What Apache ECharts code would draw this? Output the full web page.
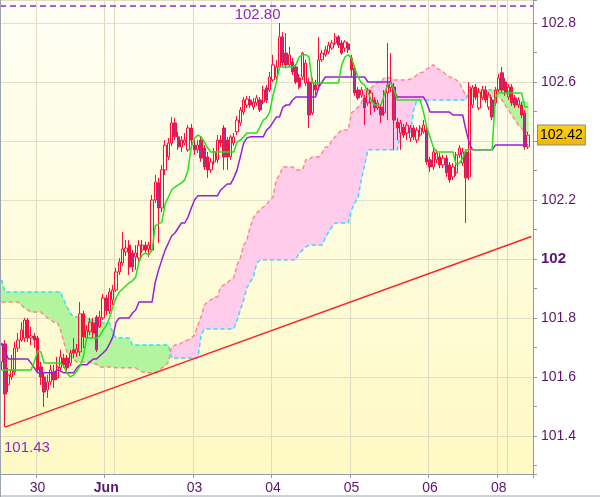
<!DOCTYPE html>
<html><head><meta charset="utf-8">
<script src="https://cdn.jsdelivr.net/npm/echarts@6/dist/echarts.min.js"></script>
<style>html,body{margin:0;padding:0;background:#fff}#c{width:600px;height:497px}</style>
</head><body><div id="c"></div><script>
const opens = [101.651,101.712,101.573,101.600,101.617,101.698,101.725,101.732,101.793,101.732,
101.739,101.732,101.634,101.600,101.556,101.583,101.617,101.597,101.631,101.664,
101.664,101.647,101.692,101.681,101.685,101.814,101.732,101.753,101.783,101.803,
101.770,101.800,101.868,101.824,101.861,101.895,101.956,101.986,102.024,102.047,
102.020,102.007,102.003,102.030,102.047,102.034,102.030,102.200,102.258,102.173,
102.302,102.346,102.393,102.461,102.414,102.380,102.393,102.370,102.444,102.386,
102.370,102.403,102.376,102.346,102.302,102.329,102.336,102.403,102.444,102.403,
102.346,102.393,102.431,102.461,102.498,102.522,102.539,102.515,102.529,102.539,
102.532,102.580,102.573,102.607,102.617,102.651,102.753,102.698,102.658,102.668,
102.651,102.614,102.617,102.597,102.600,102.495,102.590,102.590,102.675,102.692,
102.702,102.715,102.732,102.753,102.732,102.715,102.729,102.681,102.647,102.573,
102.556,102.546,102.529,102.532,102.539,102.512,102.515,102.495,102.563,102.580,
102.583,102.464,102.427,102.447,102.427,102.410,102.444,102.403,102.420,102.431,
102.437,102.336,102.312,102.336,102.346,102.319,102.342,102.319,102.278,102.292,
102.353,102.325,102.363,102.278,102.522,102.583,102.512,102.546,102.573,102.515,
102.539,102.529,102.573,102.631,102.600,102.549,102.583,102.546,102.522,102.522,
102.495,102.380];
const closes = [101.708,101.542,101.607,101.624,101.698,101.725,101.759,101.793,101.732,101.739,
101.725,101.624,101.600,101.549,101.583,101.624,101.590,101.634,101.668,101.641,
101.631,101.681,101.681,101.695,101.814,101.736,101.759,101.786,101.749,101.692,
101.803,101.868,101.824,101.888,101.895,101.956,101.990,102.034,102.037,101.973,
101.973,102.020,102.047,102.047,102.030,102.047,102.200,102.261,102.173,102.302,
102.386,102.393,102.461,102.414,102.380,102.403,102.403,102.444,102.403,102.370,
102.386,102.342,102.312,102.302,102.329,102.363,102.403,102.393,102.346,102.346,
102.414,102.414,102.471,102.505,102.539,102.542,102.522,102.532,102.546,102.505,
102.573,102.539,102.617,102.658,102.651,102.753,102.664,102.658,102.692,102.634,
102.600,102.583,102.698,102.664,102.488,102.600,102.573,102.675,102.698,102.709,
102.725,102.732,102.753,102.725,102.698,102.736,102.709,102.641,102.563,102.546,
102.573,102.512,102.573,102.563,102.512,102.529,102.488,102.563,102.590,102.597,
102.471,102.444,102.461,102.420,102.454,102.444,102.414,102.437,102.444,102.454,
102.329,102.312,102.363,102.359,102.319,102.342,102.292,102.268,102.312,102.353,
102.376,102.363,102.275,102.583,102.580,102.549,102.566,102.573,102.539,102.556,
102.481,102.573,102.614,102.573,102.563,102.583,102.529,102.522,102.539,102.488,
102.380,102.420];
const lows = [101.624,101.430,101.549,101.590,101.607,101.685,101.719,101.719,101.719,101.708,
101.698,101.617,101.573,101.498,101.529,101.573,101.563,101.590,101.617,101.631,
101.617,101.637,101.664,101.668,101.671,101.698,101.719,101.742,101.732,101.685,
101.766,101.793,101.810,101.814,101.844,101.888,101.946,101.976,102.010,101.946,
101.956,101.963,101.990,102.020,102.017,102.007,102.024,102.190,102.054,102.159,
102.285,102.336,102.383,102.403,102.370,102.363,102.386,102.363,102.383,102.353,
102.359,102.329,102.302,102.275,102.292,102.319,102.325,102.380,102.302,102.302,
102.336,102.383,102.420,102.451,102.488,102.512,102.512,102.505,102.519,102.498,
102.525,102.529,102.566,102.600,102.607,102.641,102.654,102.647,102.651,102.624,
102.593,102.576,102.607,102.587,102.444,102.488,102.556,102.573,102.668,102.685,
102.695,102.709,102.725,102.715,102.692,102.702,102.698,102.617,102.553,102.539,
102.546,102.454,102.519,102.488,102.498,102.505,102.461,102.485,102.471,102.566,
102.370,102.403,102.370,102.410,102.403,102.397,102.403,102.393,102.414,102.424,
102.319,102.295,102.302,102.325,102.308,102.308,102.278,102.258,102.268,102.282,
102.342,102.315,102.122,102.268,102.512,102.539,102.505,102.539,102.529,102.505,
102.471,102.519,102.566,102.563,102.553,102.539,102.519,102.512,102.512,102.478,
102.370,102.373];
const highs = [101.715,101.725,101.631,101.675,101.719,101.749,101.786,101.800,101.800,101.770,
101.749,101.739,101.651,101.617,101.607,101.641,101.641,101.668,101.692,101.678,
101.675,101.692,101.732,101.712,101.854,101.824,101.776,101.800,101.800,101.810,
101.824,101.881,101.878,101.902,101.912,101.970,102.003,102.092,102.064,102.064,
102.030,102.047,102.064,102.064,102.058,102.058,102.217,102.285,102.275,102.319,
102.403,102.410,102.481,102.478,102.431,102.417,102.427,102.454,102.458,102.403,
102.403,102.417,102.386,102.363,102.342,102.376,102.420,102.420,102.454,102.414,
102.420,102.427,102.485,102.515,102.549,102.553,102.553,102.546,102.556,102.549,
102.587,102.590,102.634,102.692,102.675,102.800,102.769,102.766,102.719,102.681,
102.661,102.627,102.702,102.675,102.614,102.614,102.607,102.753,102.709,102.722,
102.736,102.742,102.766,102.759,102.742,102.742,102.736,102.692,102.658,102.583,
102.583,102.556,102.580,102.573,102.549,102.539,102.525,102.573,102.732,102.698,
102.597,102.478,102.471,102.458,102.464,102.454,102.454,102.447,102.454,102.471,
102.447,102.346,102.376,102.370,102.359,102.353,102.353,102.329,102.325,102.363,
102.386,102.376,102.370,102.600,102.590,102.593,102.580,102.587,102.587,102.566,
102.549,102.583,102.627,102.651,102.614,102.593,102.593,102.556,102.549,102.532,
102.505,102.431];
const tenkan = [101.624,101.624,101.624,101.624,101.624,101.624,101.624,101.624,101.624,101.624,
101.651,101.688,101.685,101.647,101.647,101.647,101.647,101.647,101.647,101.637,
101.614,101.600,101.607,101.620,101.637,101.668,101.732,101.732,101.732,101.732,
101.739,101.759,101.776,101.800,101.837,101.868,101.888,101.898,101.909,101.919,
101.926,101.939,101.990,102.014,102.020,102.014,102.030,102.112,102.119,102.125,
102.186,102.210,102.234,102.244,102.251,102.258,102.268,102.302,102.380,102.410,
102.420,102.414,102.397,102.376,102.363,102.363,102.363,102.363,102.363,102.363,
102.363,102.363,102.397,102.403,102.414,102.427,102.427,102.427,102.427,102.447,
102.471,102.478,102.498,102.556,102.597,102.651,102.651,102.651,102.651,102.651,
102.658,102.685,102.692,102.692,102.685,102.597,102.597,102.597,102.597,102.597,
102.597,102.597,102.597,102.597,102.658,102.685,102.692,102.681,102.647,102.617,
102.597,102.590,102.566,102.539,102.522,102.522,102.522,102.556,102.590,102.597,
102.573,102.539,102.539,102.539,102.539,102.539,102.539,102.539,102.539,102.498,
102.447,102.414,102.380,102.363,102.363,102.363,102.363,102.363,102.363,102.319,
102.325,102.342,102.370,102.370,102.370,102.370,102.370,102.370,102.370,102.370,
102.370,102.549,102.563,102.563,102.563,102.563,102.563,102.563,102.563,102.563,
102.515,102.515];
const kijun = [101.715,101.692,101.661,101.661,101.661,101.661,101.661,101.661,101.661,101.647,
101.631,101.614,101.614,101.614,101.614,101.614,101.614,101.624,101.620,101.614,
101.614,101.614,101.614,101.631,101.641,101.641,101.641,101.651,101.661,101.661,
101.671,101.681,101.692,101.712,101.736,101.786,101.800,101.800,101.800,101.800,
101.817,101.827,101.854,101.854,101.854,101.854,101.854,101.922,101.963,101.997,
102.030,102.054,102.078,102.088,102.105,102.122,102.122,102.142,102.173,102.200,
102.214,102.214,102.214,102.214,102.214,102.214,102.214,102.234,102.244,102.254,
102.254,102.275,102.302,102.346,102.393,102.410,102.414,102.414,102.414,102.414,
102.414,102.437,102.447,102.464,102.481,102.481,102.515,102.522,102.522,102.539,
102.549,102.549,102.549,102.549,102.549,102.549,102.549,102.583,102.600,102.617,
102.617,102.617,102.617,102.617,102.617,102.617,102.617,102.617,102.617,102.617,
102.617,102.617,102.600,102.600,102.600,102.600,102.600,102.600,102.600,102.600,
102.573,102.549,102.549,102.549,102.549,102.549,102.549,102.549,102.549,102.549,
102.529,102.498,102.498,102.498,102.498,102.498,102.498,102.498,102.488,102.488,
102.488,102.488,102.437,102.393,102.370,102.370,102.370,102.370,102.370,102.370,
102.370,102.386,102.386,102.386,102.386,102.386,102.386,102.386,102.386,102.386,
102.386,102.386];
const spanA = [101.929,101.888,101.888,101.888,101.888,101.888,101.888,101.888,101.888,101.888,
101.888,101.888,101.888,101.888,101.888,101.888,101.888,101.888,101.888,101.861,
101.837,101.817,101.803,101.803,101.803,101.803,101.803,101.793,101.793,101.793,
101.793,101.783,101.783,101.783,101.749,101.732,101.732,101.732,101.732,101.732,
101.708,101.708,101.708,101.708,101.708,101.708,101.708,101.708,101.708,101.708,
101.708,101.708,101.664,101.664,101.664,101.664,101.664,101.664,101.664,101.664,
101.664,101.742,101.763,101.763,101.763,101.763,101.763,101.763,101.763,101.763,
101.763,101.763,101.793,101.827,101.861,101.902,101.922,101.939,101.986,101.997,
101.997,101.997,101.997,101.997,101.997,101.997,101.997,101.997,101.997,101.997,
101.997,102.020,102.030,102.041,102.047,102.047,102.047,102.047,102.047,102.071,
102.092,102.108,102.122,102.122,102.122,102.122,102.122,102.166,102.190,102.210,
102.268,102.319,102.370,102.370,102.370,102.370,102.370,102.370,102.370,102.370,
102.370,102.370,102.427,102.427,102.427,102.427,102.505,102.539,102.539,102.539,
102.539,102.539,102.539,102.539,102.539,102.539,102.539,102.539,102.539,102.539,
102.539,102.539,102.539,102.573,102.573,102.573,102.573,102.573,102.573,102.573,
102.573,102.573,102.573,102.573,102.573,102.573,102.532,102.532,102.532,102.532,
102.532,102.532];
const spanB = [101.854,101.854,101.854,101.854,101.854,101.854,101.844,101.834,101.827,101.820,
101.820,101.820,101.820,101.810,101.800,101.793,101.786,101.786,101.759,101.719,
101.685,101.671,101.658,101.651,101.651,101.651,101.651,101.651,101.644,101.644,
101.634,101.634,101.634,101.634,101.634,101.631,101.631,101.631,101.631,101.631,
101.631,101.631,101.624,101.617,101.617,101.614,101.614,101.614,101.620,101.631,
101.637,101.651,101.702,101.708,101.708,101.715,101.722,101.725,101.732,101.742,
101.776,101.803,101.844,101.854,101.861,101.871,101.871,101.905,101.912,101.919,
101.929,101.936,101.980,102.003,102.047,102.064,102.108,102.139,102.156,102.166,
102.176,102.183,102.200,102.210,102.268,102.285,102.312,102.312,102.312,102.312,
102.302,102.302,102.302,102.336,102.336,102.346,102.346,102.346,102.359,102.380,
102.380,102.403,102.414,102.427,102.437,102.437,102.437,102.495,102.505,102.515,
102.529,102.573,102.580,102.580,102.590,102.600,102.600,102.614,102.614,102.614,
102.607,102.607,102.607,102.607,102.607,102.610,102.614,102.624,102.631,102.634,
102.644,102.651,102.658,102.647,102.641,102.634,102.624,102.617,102.614,102.607,
102.597,102.573,102.556,102.549,102.549,102.549,102.549,102.549,102.549,102.549,
102.549,102.549,102.549,102.539,102.522,102.505,102.488,102.471,102.454,102.444,
102.431,102.427];

const slotCount = 163;
const dayLineIdx = [11, 32, 35, 59, 83, 107, 131, 152, 155];
const dayLabels = {11: '30', 32: 'Jun', 59: '03', 83: '04', 107: '05', 131: '06', 152: '08'};
const highMark = {idx: 85, value: 102.80};
const lowMark = {idx: 1, value: 101.43};
const lastPrice = 102.42;
const topDashLevel = 102.864;
const trendStart = [1, 101.43];
const trendEnd = [162, 102.076];
const yMin = 101.271, yMax = 102.878;

const categories = [];
for (let i = 0; i < slotCount; i++) categories.push(String(i));
const candleData = [];
for (let i = 0; i < slotCount; i++) {
  candleData.push(i < opens.length ? [opens[i], closes[i], lows[i], highs[i]] : '-');
}
const cloudData = [];
for (let i = 0; i < spanA.length - 1; i++) cloudData.push([i, spanA[i]]);

const GREEN = '#b3f59e', PINK = '#ffcdeb';
const chart = echarts.init(document.getElementById('c'), null, {renderer: 'canvas'});
const FONT = 'Liberation Sans, Arial, sans-serif';
const AX = '#8e9aa6';

chart.setOption({
  animation: false,
  graphic: [
    {type: 'line', shape: {x1: 0, y1: 496, x2: 600, y2: 496}, style: {stroke: '#9aa4ae', lineWidth: 1}, z: 10},
    {type: 'line', shape: {x1: 0.5, y1: 0, x2: 0.5, y2: 497}, style: {stroke: '#9aa4ae', lineWidth: 1}, z: 10}
  ],
  grid: {left: 0, right: 67, top: 0, bottom: 23, show: true, borderWidth: 0,
    backgroundColor: new echarts.graphic.LinearGradient(0, 0, 0, 1, [
      {offset: 0, color: '#fefff6'}, {offset: 1, color: '#fff9c4'}])},
  xAxis: {
    type: 'category', data: categories, boundaryGap: true,
    axisLine: {show: true, lineStyle: {color: AX}},
    axisTick: {show: true, length: 4, lineStyle: {color: AX},
      interval: (idx) => dayLabels[idx] !== undefined},
    axisLabel: {
      interval: (idx) => dayLabels[idx] !== undefined,
      formatter: (v) => dayLabels[v] === 'Jun' ? '{b|Jun}' : (dayLabels[v] || ''),
      color: '#5b1470', fontSize: 14, fontFamily: FONT, margin: 7,
      rich: {b: {fontWeight: 'bold', fontSize: 14, color: '#5b1470', fontFamily: FONT}}
    },
    splitLine: {show: true, interval: (idx) => dayLineIdx.indexOf(idx) >= 0,
      lineStyle: {color: '#dedbbf', width: 1}}
  },
  yAxis: [{
    type: 'value', position: 'right', min: yMin, max: yMax, splitNumber: 8, scale: true,
    axisLine: {show: true, lineStyle: {color: AX}},
    axisTick: {show: true, length: 4, lineStyle: {color: AX}},
    minorTick: {show: true, splitNumber: 2, length: 4, lineStyle: {color: AX}},
    axisLabel: {
      showMinLabel: false, showMaxLabel: false,
      formatter: (v) => { const r = Math.round(v * 10) / 10; return Math.abs(r - 102) < 1e-6 ? '{b|102}' : String(r); },
      color: '#5b1470', fontSize: 14, fontFamily: FONT, margin: 8,
      rich: {b: {fontWeight: 'bold', fontSize: 15, color: '#5b1470', fontFamily: FONT}}
    },
    splitLine: {show: true, lineStyle: {color: '#e2dfc6', width: 1}}
  }, {
    type: 'value', position: 'left', min: yMin, max: yMax,
    axisLine: {show: true, lineStyle: {color: AX}},
    axisTick: {show: false}, axisLabel: {show: false}, splitLine: {show: false}
  }],
  series: [
    {
      type: 'custom', name: 'cloud', z: 1, silent: true,
      data: cloudData, encode: {x: 0, y: 1},
      renderItem: (params, api) => {
        const i = api.value(0);
        const a0 = spanA[i], a1 = spanA[i + 1], b0 = spanB[i], b1 = spanB[i + 1];
        const pa0 = api.coord([i, a0]), pa1 = api.coord([i + 1, a1]);
        const pb0 = api.coord([i, b0]), pb1 = api.coord([i + 1, b1]);
        const d0 = a0 - b0, d1 = a1 - b1;
        const poly = (pts, col) => ({type: 'polygon', shape: {points: pts},
          style: {fill: col, stroke: col, lineWidth: 0.8}});
        if (d0 * d1 < 0) {
          const t = d0 / (d0 - d1);
          const pm = [pa0[0] + t * (pa1[0] - pa0[0]), pa0[1] + t * (pa1[1] - pa0[1])];
          return {type: 'group', children: [
            poly([pa0, pm, pb0], d0 > 0 ? GREEN : PINK),
            poly([pm, pa1, pb1], d1 > 0 ? GREEN : PINK)]};
        }
        return poly([pa0, pa1, pb1, pb0], (d0 + d1) >= 0 ? GREEN : PINK);
      }
    },
    {type: 'line', name: 'spanA', data: spanA, symbol: 'none', z: 3, silent: true,
      lineStyle: {color: '#2fe0ff', width: 1.5, type: [4, 3]}},
    {type: 'line', name: 'spanB', data: spanB, symbol: 'none', z: 3, silent: true,
      lineStyle: {color: '#ff8a84', width: 1.5, type: [4, 3]}},
    {
      type: 'candlestick', name: 'price', data: candleData, z: 4, barWidth: 2.8,
      itemStyle: {color: 'rgba(255,255,255,0)', color0: '#a8358a',
        borderColor: '#ff0a3c', borderColor0: '#ff0a3c', borderWidth: 1},
      markPoint: {
        symbol: 'circle', symbolSize: 0, silent: true,
        label: {show: true, color: '#9028c0', fontSize: 15, fontFamily: FONT},
        data: [
          {coord: [highMark.idx, highMark.value], value: highMark.value,
            label: {formatter: highMark.value.toFixed(2), offset: [-22, -8]}},
          {coord: [lowMark.idx, lowMark.value], value: lowMark.value,
            label: {formatter: lowMark.value.toFixed(2), offset: [22, 21]}}
        ]
      },
      markLine: {
        symbol: ['none', 'none'], silent: true,
        data: [
          [{coord: trendStart, lineStyle: {color: '#ff2424', width: 1.5, type: 'solid'}, label: {show: false}},
           {coord: trendEnd}],
          {yAxis: topDashLevel, lineStyle: {color: '#9a22d0', width: 1.5, type: [6, 4]}, label: {show: false}}
        ]
      }
    },
    {
      type: 'line', name: 'last', data: [], silent: true, z: 8,
      markLine: {
        symbol: ['none', 'none'], silent: true,
        lineStyle: {color: 'rgba(0,0,0,0)', width: 1, type: 'solid'},
        data: [{yAxis: lastPrice}],
        label: {show: true, position: 'end', distance: 5, formatter: lastPrice.toFixed(2),
          color: '#000', fontSize: 14, fontFamily: FONT, padding: [3, 2, 2, 2],
          backgroundColor: new echarts.graphic.LinearGradient(0, 0, 0, 1, [
            {offset: 0, color: '#ffd21a'}, {offset: 1, color: '#f0b400'}]),
          borderColor: '#8a8a8a', borderWidth: 1}
      }
    },
    {type: 'line', name: 'kijun', data: kijun, symbol: 'none', z: 5, silent: true,
      lineStyle: {color: '#9a1fd0', width: 1.5}},
    {type: 'line', name: 'tenkan', data: tenkan, symbol: 'none', z: 5, silent: true,
      lineStyle: {color: '#27e01a', width: 1.5}}
  ]
});
</script></body></html>
